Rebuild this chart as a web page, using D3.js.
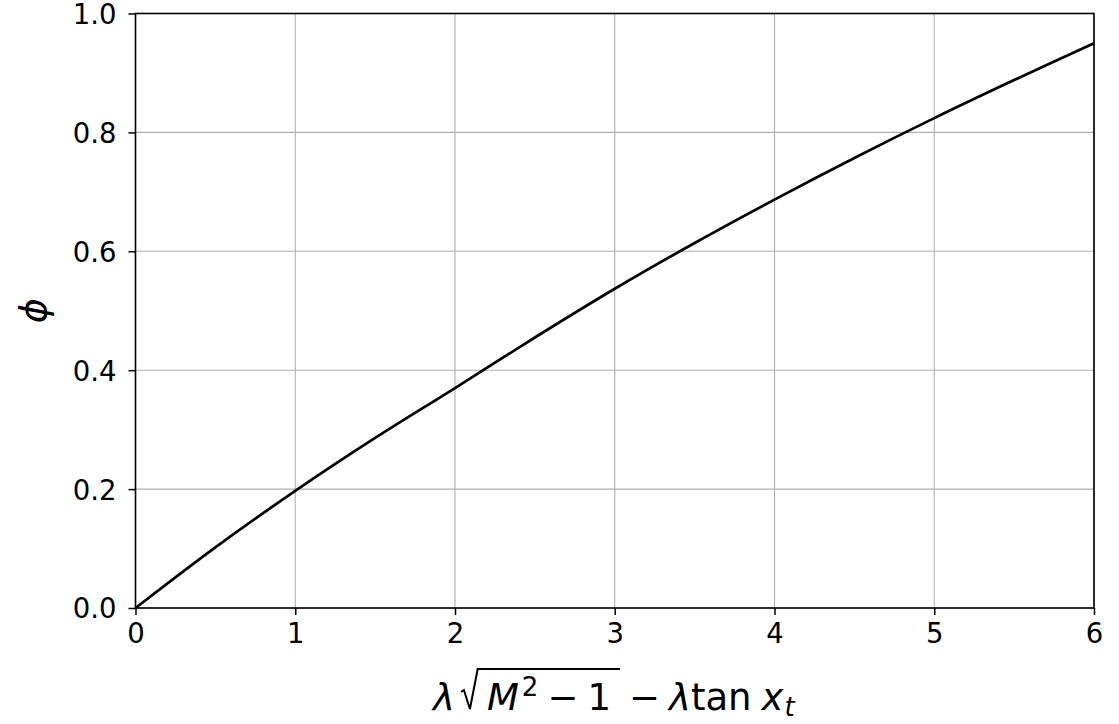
<!DOCTYPE html>
<html><head><meta charset="utf-8">
<script src="https://cdn.jsdelivr.net/npm/d3@7"></script>
<style>body{margin:0;background:#fff}svg{display:block}</style>
</head><body>
<script>
const xValues = [0, 0.5, 1, 1.5, 2, 2.5, 3, 3.5, 4, 4.5, 5, 5.5, 6];
const phiValues = [0, 0.102, 0.197, 0.286, 0.370, 0.455, 0.537, 0.614, 0.687, 0.757, 0.824, 0.888, 0.950];
const xTicks = [0, 1, 2, 3, 4, 5, 6];
const yTicks = [0, 0.2, 0.4, 0.6, 0.8, 1.0];

const W = 1119, H = 724;
const m = {left: 135.5, right: 1094, top: 13.5, bottom: 608};
const font = "DejaVu Sans, sans-serif";
const svg = d3.select("body").append("svg").attr("width", W).attr("height", H);
const x = d3.scaleLinear().domain([0, 6]).range([m.left, m.right]);
const y = d3.scaleLinear().domain([0, 1]).range([m.bottom, m.top]);

// grid
const g = svg.append("g");
g.selectAll(".vx").data(xTicks).join("line")
  .attr("x1", d => x(d)).attr("x2", d => x(d)).attr("y1", m.top).attr("y2", m.bottom)
  .attr("stroke", "#b0b0b0").attr("stroke-width", 1.1);
g.selectAll(".hy").data(yTicks).join("line")
  .attr("y1", d => y(d)).attr("y2", d => y(d)).attr("x1", m.left).attr("x2", m.right)
  .attr("stroke", "#b0b0b0").attr("stroke-width", 1.1);

// curve
const line = d3.line().x((d, i) => x(xValues[i])).y(d => y(d)).curve(d3.curveCatmullRom);
svg.append("path").datum(phiValues).attr("d", line)
  .attr("fill", "none").attr("stroke", "#000").attr("stroke-width", 2.7);

// axes
const xAxis = d3.axisBottom(x).tickValues(xTicks).tickFormat(d3.format("d")).tickSizeOuter(0).tickSize(7).tickPadding(8);
const yAxis = d3.axisLeft(y).tickValues(yTicks).tickFormat(d3.format(".1f")).tickSizeOuter(0).tickSize(7).tickPadding(12);
const gx = svg.append("g").attr("transform", `translate(0,${m.bottom})`).call(xAxis);
const gy = svg.append("g").attr("transform", `translate(${m.left},0)`).call(yAxis);
[gx, gy].forEach(a => {
  a.select(".domain").remove();
  a.selectAll("line").attr("stroke", "#000").attr("stroke-width", 1.5);
  a.selectAll("text").attr("font-family", font).attr("font-size", 27.5).attr("fill", "#000");
});
gy.selectAll("text").attr("dy", "0.36em");
svg.append("rect").attr("x", m.left).attr("y", m.top).attr("width", m.right - m.left).attr("height", m.bottom - m.top)
  .attr("fill", "none").attr("stroke", "#000").attr("stroke-width", 1.6);

// y label
svg.append("text").attr("transform", `translate(46,${(m.top + m.bottom) / 2}) rotate(-90)`)
  .attr("text-anchor", "middle").attr("font-family", font).attr("font-style", "italic")
  .attr("font-size", 38).text("ϕ");

// x label (math layout)
const FS = 37, SS = 26;
const pieces = [
  {t: "λ", it: true, s: FS, dy: 0},
  {rad: "start", gap: 6},
  {t: "M", it: true, s: FS, dy: 0, gap: 9},
  {t: "2", it: false, s: SS, dy: -14, gap: 3},
  {t: "−", it: false, s: FS, dy: 0, gap: 9},
  {t: "1", it: false, s: FS, dy: 0, gap: 9},
  {rad: "end", gap: 9},
  {t: "−", it: false, s: FS, dy: 0, gap: 9},
  {t: "λ", it: true, s: FS, dy: 0, gap: 9},
  {t: "tan", it: false, s: FS, dy: 0},
  {t: "x", it: true, s: FS, dy: 0, gap: 10},
  {t: "t", it: true, s: SS, dy: 6, gap: 1}
];
const lab = svg.append("g");
const base = 710;
let cx = 0, radStart = 0, radEnd = 0;
const radW = 17, radTop = base - 42;
pieces.forEach(p => {
  if (p.gap) cx += p.gap;
  if (p.rad === "start") {
    lab.append("path")
      .attr("d", `M${cx},${base - 18} L${cx + 3},${base - 20} L${cx + 9},${base - 1} L${cx + radW},${radTop}`)
      .attr("fill", "none").attr("stroke", "#000").attr("stroke-width", 2).attr("stroke-linejoin", "miter");
    radStart = cx + radW;
    cx += radW;
    return;
  }
  if (p.rad === "end") { radEnd = cx; return; }
  const t = lab.append("text").attr("x", cx).attr("y", base + p.dy)
    .attr("font-family", font).attr("font-size", p.s)
    .attr("font-style", p.it ? "italic" : "normal").text(p.t);
  cx += t.node().getComputedTextLength();
});
lab.append("line").attr("x1", radStart).attr("x2", radEnd).attr("y1", radTop + 1).attr("y2", radTop + 1)
  .attr("stroke", "#000").attr("stroke-width", 2);
lab.attr("transform", `translate(${434 - 1},0)`);
</script>
</body></html>
